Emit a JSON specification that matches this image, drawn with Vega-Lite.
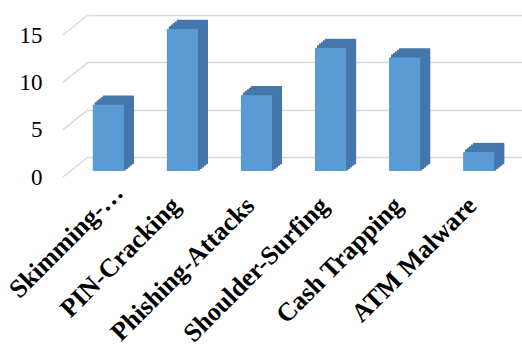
{
  "$schema": "https://vega.github.io/schema/vega-lite/v6.json",
  "width": 434,
  "height": 142,
  "autosize": {"type": "none"},
  "padding": {"left": 88, "top": 15, "right": 0, "bottom": 190},
  "background": "white",
  "config": {"view": {"stroke": null}},
  "datasets": {
    "attacks": [
      {"attack": "Skimming-…", "count": 7},
      {"attack": "PIN-Cracking", "count": 15},
      {"attack": "Phishing-Attacks", "count": 8},
      {"attack": "Shoulder-Surfing", "count": 13},
      {"attack": "Cash Trapping", "count": 12},
      {"attack": "ATM Malware", "count": 2}
    ],
    "ticks": [{"v": 0}, {"v": 5}, {"v": 10}, {"v": 15}]
  },
  "layer": [
    {
      "data": {"name": "ticks"},
      "mark": {"type": "rule", "color": "#d9d9d9", "strokeWidth": 1.5, "y2Offset": 20},
      "encoding": {
        "y": {
          "field": "v", "type": "quantitative", "scale": {"domain": [0, 15], "nice": false},
          "axis": {
            "title": null, "values": [0, 5, 10, 15], "grid": true, "gridColor": "#d9d9d9", "gridWidth": 1.5,
            "domain": false, "ticks": false, "tickSize": 0, "labelFont": "Liberation Serif", "labelFontSize": 23,
            "labelColor": "#000000", "labelPadding": 46, "labelOffset": 20
          }
        },
        "y2": {"field": "v"},
        "x": {"value": 0},
        "x2": {"value": -25}
      }
    },
    {
      "data": {"name": "attacks"},
      "encoding": {
        "x": {
          "field": "attack", "type": "nominal", "sort": null,
          "scale": {"paddingInner": 0.58, "paddingOuter": 0.22},
          "axis": {
            "title": null, "domain": false, "ticks": false, "grid": false,
            "labelAngle": -45, "labelFont": "Liberation Serif", "labelFontWeight": "bold",
            "labelFontSize": 26, "labelColor": "#000000",
            "labelPadding": {"condition": {"test": "datum.value === 'Skimming-…'", "value": 22}, "value": 35},
            "labelOffset": {"condition": {"test": "datum.value === 'Skimming-…'", "value": -10}, "value": -27},
            "labelLimit": 300
          }
        },
        "y": {
          "field": "count", "type": "quantitative",
          "scale": {"domain": [0, 15], "nice": false},
          "axis": {
            "title": null, "values": [0, 5, 10, 15], "grid": true, "gridColor": "#d9d9d9", "gridWidth": 1.5,
            "domain": false, "ticks": false, "tickSize": 0, "labelFont": "Liberation Serif", "labelFontSize": 23,
            "labelColor": "#000000", "labelPadding": 46, "labelOffset": 20
          }
        },
        "y2": {"datum": 0}
      },
      "layer": [
        {"mark": {"type": "bar", "color": "#3a6590", "xOffset": -1.5, "yOffset": 6, "y2Offset": 6}},
        {"mark": {"type": "bar", "color": "#3a6590", "xOffset": -3.5, "yOffset": 7.6, "y2Offset": 7.6}},
        {"mark": {"type": "bar", "color": "#3a6590", "xOffset": -5.5, "yOffset": 9.2, "y2Offset": 9.2}},
        {"mark": {"type": "bar", "color": "#3a6590", "xOffset": -7.5, "yOffset": 10.8, "y2Offset": 10.8}},
        {"mark": {"type": "bar", "color": "#3a6590", "xOffset": -9.5, "yOffset": 12.4, "y2Offset": 12.4}},
        {"mark": {"type": "bar", "color": "#4677ab", "xOffset": -1.5, "yOffset": 4.8, "y2Offset": 7.2}, "encoding": {"y2": {"field": "count"}}},
        {"mark": {"type": "bar", "color": "#4677ab", "xOffset": -3.5, "yOffset": 6.4, "y2Offset": 8.8}, "encoding": {"y2": {"field": "count"}}},
        {"mark": {"type": "bar", "color": "#4677ab", "xOffset": -5.5, "yOffset": 8.0, "y2Offset": 10.4}, "encoding": {"y2": {"field": "count"}}},
        {"mark": {"type": "bar", "color": "#4677ab", "xOffset": -7.5, "yOffset": 9.6, "y2Offset": 12.0}, "encoding": {"y2": {"field": "count"}}},
        {"mark": {"type": "bar", "color": "#4677ab", "xOffset": -9.5, "yOffset": 11.2, "y2Offset": 13.6}, "encoding": {"y2": {"field": "count"}}},
        {"mark": {"type": "bar", "color": "#5b9bd5", "xOffset": -11.5, "yOffset": 14, "y2Offset": 14}}
      ]
    }
  ]
}
